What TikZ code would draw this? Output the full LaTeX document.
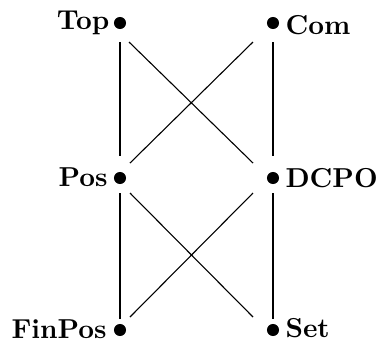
\documentclass[tikz,border=0pt]{standalone}
\usepackage{amsmath}
\usepackage{amssymb}
\usepackage{tikz}

\begin{document}
\begin{tikzpicture}[x=0.365pt,y=-0.365pt,
                dot/.style={circle,fill=black,inner sep=0pt,minimum size=4.4pt},
                lbl/.style={inner sep=0pt,font=\bfseries}]
                \useasboundingbox (0,0) rectangle (379,342);

                \node[dot] (top) at (120, 23) {};
                \node[dot] (com) at (273, 23) {};
                \node[dot] (pos) at (120, 178) {};
                \node[dot] (dcpo) at (273, 178) {};
                \node[dot] (finpos) at (120, 330) {};
                \node[dot] (set) at (273, 330) {};

                \node[lbl,anchor=base east] (toplbl) at (110, 29) {Top};
                \node[lbl,anchor=base west] (comlbl) at (285, 34) {Com};
                \node[lbl,anchor=base east] (poslbl) at (108, 186) {Pos};
                \node[lbl,anchor=base west] (dcpolbl) at (285, 187) {DCPO};
                \node[lbl,anchor=base east] (finposlbl) at (107, 338) {FinPos};
                \node[lbl,anchor=base west] (setlbl) at (285, 337) {Set};

                \draw ([shift={(0,19)}]top.center) -- ([shift={(0,-22)}]pos.center);
                \draw ([shift={(0,19)}]com.center) -- ([shift={(0,-22)}]dcpo.center);
                \draw ([shift={(0,15)}]pos.center) -- ([shift={(0,-11)}]finpos.center);
                \draw ([shift={(0,15)}]dcpo.center) -- ([shift={(0,-11)}]set.center);

                \draw ([shift={(9,19)}]top.center) -- ([shift={(-20,-15)}]dcpo.center);
                \draw ([shift={(-20,19)}]com.center) -- ([shift={(10,-15)}]pos.center);
                \draw ([shift={(10,15)}]pos.center) -- ([shift={(-20,-13)}]set.center);
                \draw ([shift={(-20,15)}]dcpo.center) -- ([shift={(10,-13)}]finpos.center);
            \end{tikzpicture}
\end{document}
